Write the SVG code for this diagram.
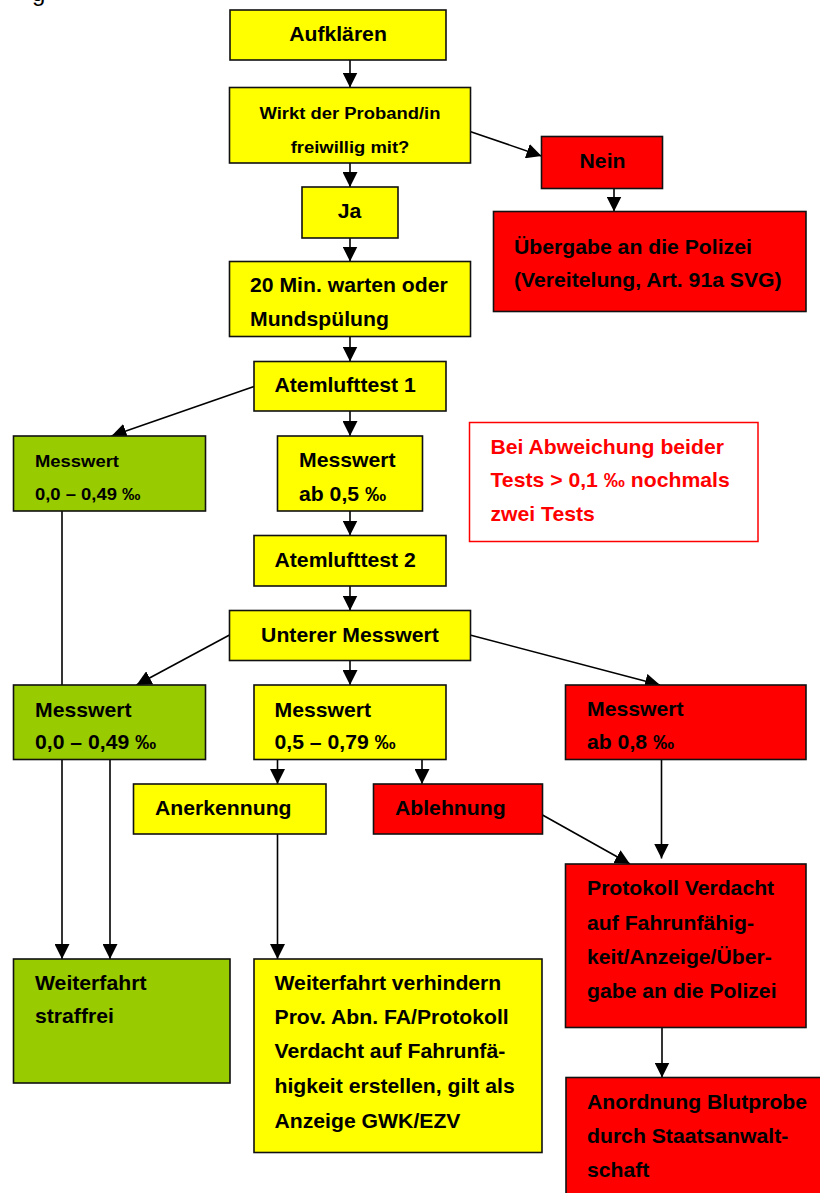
<svg xmlns="http://www.w3.org/2000/svg" width="820" height="1193" viewBox="0 0 820 1193">
<style>
.bx{stroke:#111;stroke-width:1.6}
.y{fill:#ffff00}
.r{fill:#ff0000}
.g{fill:#99cc00}
.note{fill:#fff;stroke:#ff0000;stroke-width:1.5}
.t{font-family:"Liberation Sans",Arial,sans-serif;font-weight:bold;font-size:20px;fill:#000}
.s{font-size:17.4px}
.rt{fill:#ff0000}
.c{text-anchor:middle}
.ln{stroke:#000;stroke-width:1.6;fill:none}
.frag{font-family:"Liberation Sans",Arial,sans-serif;font-size:24px;fill:#000}
</style>
<defs>
<marker id="ah" markerUnits="userSpaceOnUse" markerWidth="15" markerHeight="15" refX="15" refY="7.5" orient="auto" viewBox="0 0 15 15">
<path d="M0,0 L15,7.5 L0,15 z" fill="#000"/>
</marker>
</defs>
<rect width="820" height="1193" fill="#fff"/>
<text class="frag" x="32" y="0.5">g</text>

<g id="connectors">
<line class="ln" x1="350" y1="60" x2="350" y2="87.5" marker-end="url(#ah)"/>
<line class="ln" x1="470" y1="131.5" x2="541.5" y2="156" marker-end="url(#ah)"/>
<line class="ln" x1="350" y1="163" x2="350" y2="187" marker-end="url(#ah)"/>
<line class="ln" x1="614" y1="188.5" x2="614" y2="211.5" marker-end="url(#ah)"/>
<line class="ln" x1="350" y1="238" x2="350" y2="261.5" marker-end="url(#ah)"/>
<line class="ln" x1="350" y1="336.5" x2="350" y2="361.5" marker-end="url(#ah)"/>
<line class="ln" x1="254" y1="386.5" x2="111.5" y2="436" marker-end="url(#ah)"/>
<line class="ln" x1="350" y1="411" x2="350" y2="436" marker-end="url(#ah)"/>
<line class="ln" x1="350" y1="511" x2="350" y2="535.5" marker-end="url(#ah)"/>
<line class="ln" x1="350" y1="586" x2="350" y2="610.5" marker-end="url(#ah)"/>
<line class="ln" x1="62" y1="511" x2="62" y2="685"/>
<line class="ln" x1="229.5" y1="635" x2="136.5" y2="685" marker-end="url(#ah)"/>
<line class="ln" x1="350" y1="660.5" x2="350" y2="685" marker-end="url(#ah)"/>
<line class="ln" x1="470" y1="635" x2="660" y2="685" marker-end="url(#ah)"/>
<line class="ln" x1="62" y1="759.5" x2="62" y2="959" marker-end="url(#ah)"/>
<line class="ln" x1="110" y1="759.5" x2="110" y2="959" marker-end="url(#ah)"/>
<line class="ln" x1="277.5" y1="759.5" x2="277.5" y2="784" marker-end="url(#ah)"/>
<line class="ln" x1="422" y1="759.5" x2="422" y2="784" marker-end="url(#ah)"/>
<line class="ln" x1="277.5" y1="834" x2="277.5" y2="959" marker-end="url(#ah)"/>
<line class="ln" x1="542.5" y1="815" x2="630" y2="864" marker-end="url(#ah)"/>
<line class="ln" x1="661.5" y1="759.5" x2="661.5" y2="858.5" marker-end="url(#ah)"/>
<line class="ln" x1="662" y1="1027.5" x2="662" y2="1077.5" marker-end="url(#ah)"/>
</g>

<g id="n-aufklaeren">
<rect class="bx y" x="230" y="10" width="216" height="50"/>
<text class="t c" transform="matrix(1.06 0 0 1 338 41)">Aufklären</text>
</g>
<g id="n-wirkt">
<rect class="bx y" x="229.5" y="87.5" width="241" height="75.5"/>
<text class="t s c" transform="matrix(1.06 0 0 1 350 119)"><tspan x="0" y="0">Wirkt der Proband/in</tspan><tspan x="0" y="34">freiwillig mit?</tspan></text>
</g>
<g id="n-nein">
<rect class="bx r" x="541.5" y="136.5" width="121" height="52"/>
<text class="t c" transform="matrix(1.06 0 0 1 602.5 167.5)">Nein</text>
</g>
<g id="n-ja">
<rect class="bx y" x="302" y="187" width="96" height="51"/>
<text class="t c" transform="matrix(1.06 0 0 1 349.5 217.5)">Ja</text>
</g>
<g id="n-uebergabe">
<rect class="bx r" x="493.5" y="211.5" width="312.5" height="100"/>
<text class="t" transform="matrix(1.06 0 0 1 514 253.5)"><tspan x="0" y="0">Übergabe an die Polizei</tspan><tspan x="0" y="34">(Vereitelung, Art. 91a SVG)</tspan></text>
</g>
<g id="n-warten">
<rect class="bx y" x="229.5" y="261.5" width="241" height="75"/>
<text class="t" transform="matrix(1.06 0 0 1 250 292)"><tspan x="0" y="0">20 Min. warten oder</tspan><tspan x="0" y="34">Mundspülung</tspan></text>
</g>
<g id="n-atem1">
<rect class="bx y" x="254" y="361.5" width="192" height="49.5"/>
<text class="t" transform="matrix(1.06 0 0 1 274.5 391.5)">Atemlufttest 1</text>
</g>
<g id="n-green1">
<rect class="bx g" x="13.5" y="436" width="192" height="75"/>
<text class="t s" transform="matrix(1.06 0 0 1 35 466.5)"><tspan x="0" y="0">Messwert</tspan><tspan x="0" y="34">0,0 – 0,49 ‰</tspan></text>
</g>
<g id="n-ab05">
<rect class="bx y" x="277.5" y="436" width="145" height="75"/>
<text class="t" transform="matrix(1.06 0 0 1 299 466.5)"><tspan x="0" y="0">Messwert</tspan><tspan x="0" y="35">ab 0,5 ‰</tspan></text>
</g>
<g id="n-note">
<rect class="note" x="469.5" y="422.5" width="288.5" height="119"/>
<text class="t rt" transform="matrix(1.06 0 0 1 490.5 453.5)"><tspan x="0" y="0">Bei Abweichung beider</tspan><tspan x="0" y="34">Tests &gt; 0,1 ‰ nochmals</tspan><tspan x="0" y="68">zwei Tests</tspan></text>
</g>
<g id="n-atem2">
<rect class="bx y" x="254" y="535.5" width="192" height="50.5"/>
<text class="t" transform="matrix(1.06 0 0 1 274.5 566.5)">Atemlufttest 2</text>
</g>
<g id="n-unterer">
<rect class="bx y" x="229.5" y="610.5" width="241" height="50"/>
<text class="t c" transform="matrix(1.06 0 0 1 350 641.5)">Unterer Messwert</text>
</g>
<g id="n-green2">
<rect class="bx g" x="13.5" y="685" width="192" height="74.5"/>
<text class="t" transform="matrix(1.06 0 0 1 35 716.5)"><tspan x="0" y="0">Messwert</tspan><tspan x="0" y="33">0,0 – 0,49 ‰</tspan></text>
</g>
<g id="n-mid">
<rect class="bx y" x="254" y="685" width="192" height="74.5"/>
<text class="t" transform="matrix(1.06 0 0 1 274.5 716.5)"><tspan x="0" y="0">Messwert</tspan><tspan x="0" y="33">0,5 – 0,79 ‰</tspan></text>
</g>
<g id="n-red08">
<rect class="bx r" x="565.5" y="685" width="240.5" height="74.5"/>
<text class="t" transform="matrix(1.06 0 0 1 587 715.5)"><tspan x="0" y="0">Messwert</tspan><tspan x="0" y="34">ab 0,8 ‰</tspan></text>
</g>
<g id="n-anerkennung">
<rect class="bx y" x="133.5" y="784" width="192.5" height="50"/>
<text class="t" transform="matrix(1.06 0 0 1 155 815)">Anerkennung</text>
</g>
<g id="n-ablehnung">
<rect class="bx r" x="373.5" y="784" width="169" height="50"/>
<text class="t" transform="matrix(1.06 0 0 1 395 815)">Ablehnung</text>
</g>
<g id="n-protokoll">
<rect class="bx r" x="565.5" y="864" width="240.5" height="163.5"/>
<text class="t" transform="matrix(1.06 0 0 1 587 895)"><tspan x="0" y="0">Protokoll Verdacht</tspan><tspan x="0" y="35">auf Fahrunfähig-</tspan><tspan x="0" y="69">keit/Anzeige/Über-</tspan><tspan x="0" y="103.5">gabe an die Polizei</tspan></text>
</g>
<g id="n-straffrei">
<rect class="bx g" x="13.5" y="959" width="216.5" height="124"/>
<text class="t" transform="matrix(1.06 0 0 1 35 989.5)"><tspan x="0" y="0">Weiterfahrt</tspan><tspan x="0" y="34">straffrei</tspan></text>
</g>
<g id="n-verhindern">
<rect class="bx y" x="254" y="959" width="288" height="193.5"/>
<text class="t" transform="matrix(1.06 0 0 1 274.5 989.5)"><tspan x="0" y="0">Weiterfahrt verhindern</tspan><tspan x="0" y="34.5">Prov. Abn. FA/Protokoll</tspan><tspan x="0" y="69">Verdacht auf Fahrunfä-</tspan><tspan x="0" y="104">higkeit erstellen, gilt als</tspan><tspan x="0" y="138.5">Anzeige GWK/EZV</tspan></text>
</g>
<g id="n-blutprobe">
<rect class="bx r" x="566" y="1077.5" width="260" height="130"/>
<text class="t" transform="matrix(1.06 0 0 1 587 1108.5)"><tspan x="0" y="0">Anordnung Blutprobe</tspan><tspan x="0" y="35">durch Staatsanwalt-</tspan><tspan x="0" y="68.5">schaft</tspan></text>
</g>
</svg>
